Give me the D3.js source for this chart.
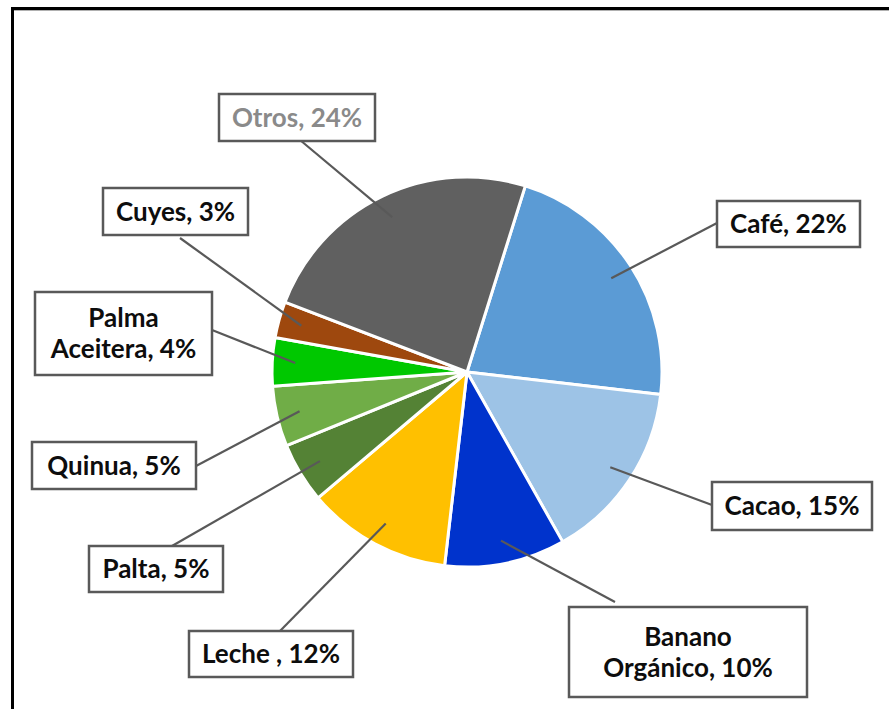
<!DOCTYPE html>
<html>
<head>
<meta charset="utf-8">
<script src="https://cdn.jsdelivr.net/npm/d3@7"></script>
<style>
  body { margin: 0; background: #fff; }
  svg { display: block; }
</style>
</head>
<body>
<div class="pie-chart"></div>
<script>
// Data
const categories = ["Café", "Cacao", "Banano Orgánico", "Leche", "Palta", "Quinua", "Palma Aceitera", "Cuyes", "Otros"];
const values = [22, 15, 10, 12, 5, 5, 4, 3, 24];
const labelLines = [
  ["Café, 22%"],
  ["Cacao, 15%"],
  ["Banano", "Orgánico, 10%"],
  ["Leche , 12%"],
  ["Palta, 5%"],
  ["Quinua, 5%"],
  ["Palma", "Aceitera, 4%"],
  ["Cuyes, 3%"],
  ["Otros, 24%"]
];

// Colours per slice
const colors = ["#5b9bd5", "#9dc3e6", "#0033cc", "#ffc000", "#548235", "#70ad47", "#00c800", "#9e480e", "#606060"];

// Label boxes: x, y, w, h and where the leader line meets the box
const labelBoxes = [
  { x: 717, y: 201, w: 143, h: 46, ax: 717, ay: 223 },
  { x: 712, y: 482, w: 160, h: 48, ax: 712, ay: 505 },
  { x: 569, y: 607, w: 238, h: 90, ax: 615, ay: 602 },
  { x: 189, y: 631, w: 164, h: 46, ax: 280, ay: 631 },
  { x: 89,  y: 546, w: 134, h: 46, ax: 172, ay: 546 },
  { x: 32,  y: 442, w: 164, h: 47, ax: 196, ay: 466 },
  { x: 35,  y: 292, w: 177, h: 83, ax: 212, ay: 330 },
  { x: 103, y: 188, w: 145, h: 47, ax: 180, ay: 238 },
  { x: 219, y: 94,  w: 156, h: 47, ax: 300, ay: 140 }
];

const width = 889, height = 709;
const cx = 467, cy = 372, radius = 195;

const svg = d3.select(".pie-chart")
  .append("svg")
  .attr("width", width)
  .attr("height", height);

// outer frame (only left and top edges are visible)
svg.append("path")
   .attr("d", `M12.5,${height} L12.5,8.5 L${width},8.5`)
   .attr("fill", "none")
   .attr("stroke", "#000")
   .attr("stroke-width", 3);
svg.append("line")
   .attr("x1", 14).attr("x2", width)
   .attr("y1", 10.5).attr("y2", 10.5)
   .attr("stroke", "#b0b0b0")
   .attr("stroke-width", 1);

const data = categories.map((c, i) => ({ name: c, value: values[i], i: i }));

const startAngle = 17.4 * Math.PI / 180;
const pie = d3.pie()
  .sort(null)
  .value(d => d.value)
  .startAngle(startAngle)
  .endAngle(startAngle + 2 * Math.PI);

const arc = d3.arc().innerRadius(0).outerRadius(radius);
const leaderArc = d3.arc().innerRadius(172).outerRadius(172);

const arcs = pie(data);

const g = svg.append("g")
  .attr("transform", `translate(${cx},${cy})`);

g.selectAll("path.slice")
  .data(arcs)
  .enter()
  .append("path")
  .attr("class", "slice")
  .attr("d", arc)
  .attr("fill", d => colors[d.data.i])
  .attr("stroke", "#fff")
  .attr("stroke-width", 3)
  .attr("stroke-linejoin", "round");

// leader lines
svg.append("g")
  .selectAll("line")
  .data(arcs)
  .enter()
  .append("line")
  .attr("x1", d => cx + leaderArc.centroid(d)[0])
  .attr("y1", d => cy + leaderArc.centroid(d)[1])
  .attr("x2", d => labelBoxes[d.data.i].ax)
  .attr("y2", d => labelBoxes[d.data.i].ay)
  .attr("stroke", "#595959")
  .attr("stroke-width", 2.2);

// label boxes
const labels = svg.append("g")
  .selectAll("g")
  .data(arcs)
  .enter()
  .append("g");

labels.append("rect")
  .attr("x", d => labelBoxes[d.data.i].x)
  .attr("y", d => labelBoxes[d.data.i].y)
  .attr("width", d => labelBoxes[d.data.i].w)
  .attr("height", d => labelBoxes[d.data.i].h)
  .attr("fill", "#fff")
  .attr("stroke", "#595959")
  .attr("stroke-width", 2.5);

const lineGap = 31;
labels.append("text")
  .attr("x", d => labelBoxes[d.data.i].x + labelBoxes[d.data.i].w / 2)
  .attr("y", d => {
    const b = labelBoxes[d.data.i];
    const n = labelLines[d.data.i].length;
    return b.y + b.h / 2 - (n - 1) * lineGap / 2;
  })
  .attr("text-anchor", "middle")
  .style("font-family", "Lato, 'Open Sans', sans-serif")
  .style("font-weight", "bold")
  .style("font-size", "26px")
  .attr("fill", d => d.data.name === "Otros" ? "#8a8a8a" : "#0d0d0d")
  .selectAll("tspan")
  .data(d => labelLines[d.data.i].map((t, k) => ({ t: t, k: k, d: d })))
  .enter()
  .append("tspan")
  .attr("x", l => labelBoxes[l.d.data.i].x + labelBoxes[l.d.data.i].w / 2)
  .attr("dy", l => l.k === 0 ? "0.36em" : lineGap + "px")
  .text(l => l.t);
</script>
</body>
</html>
